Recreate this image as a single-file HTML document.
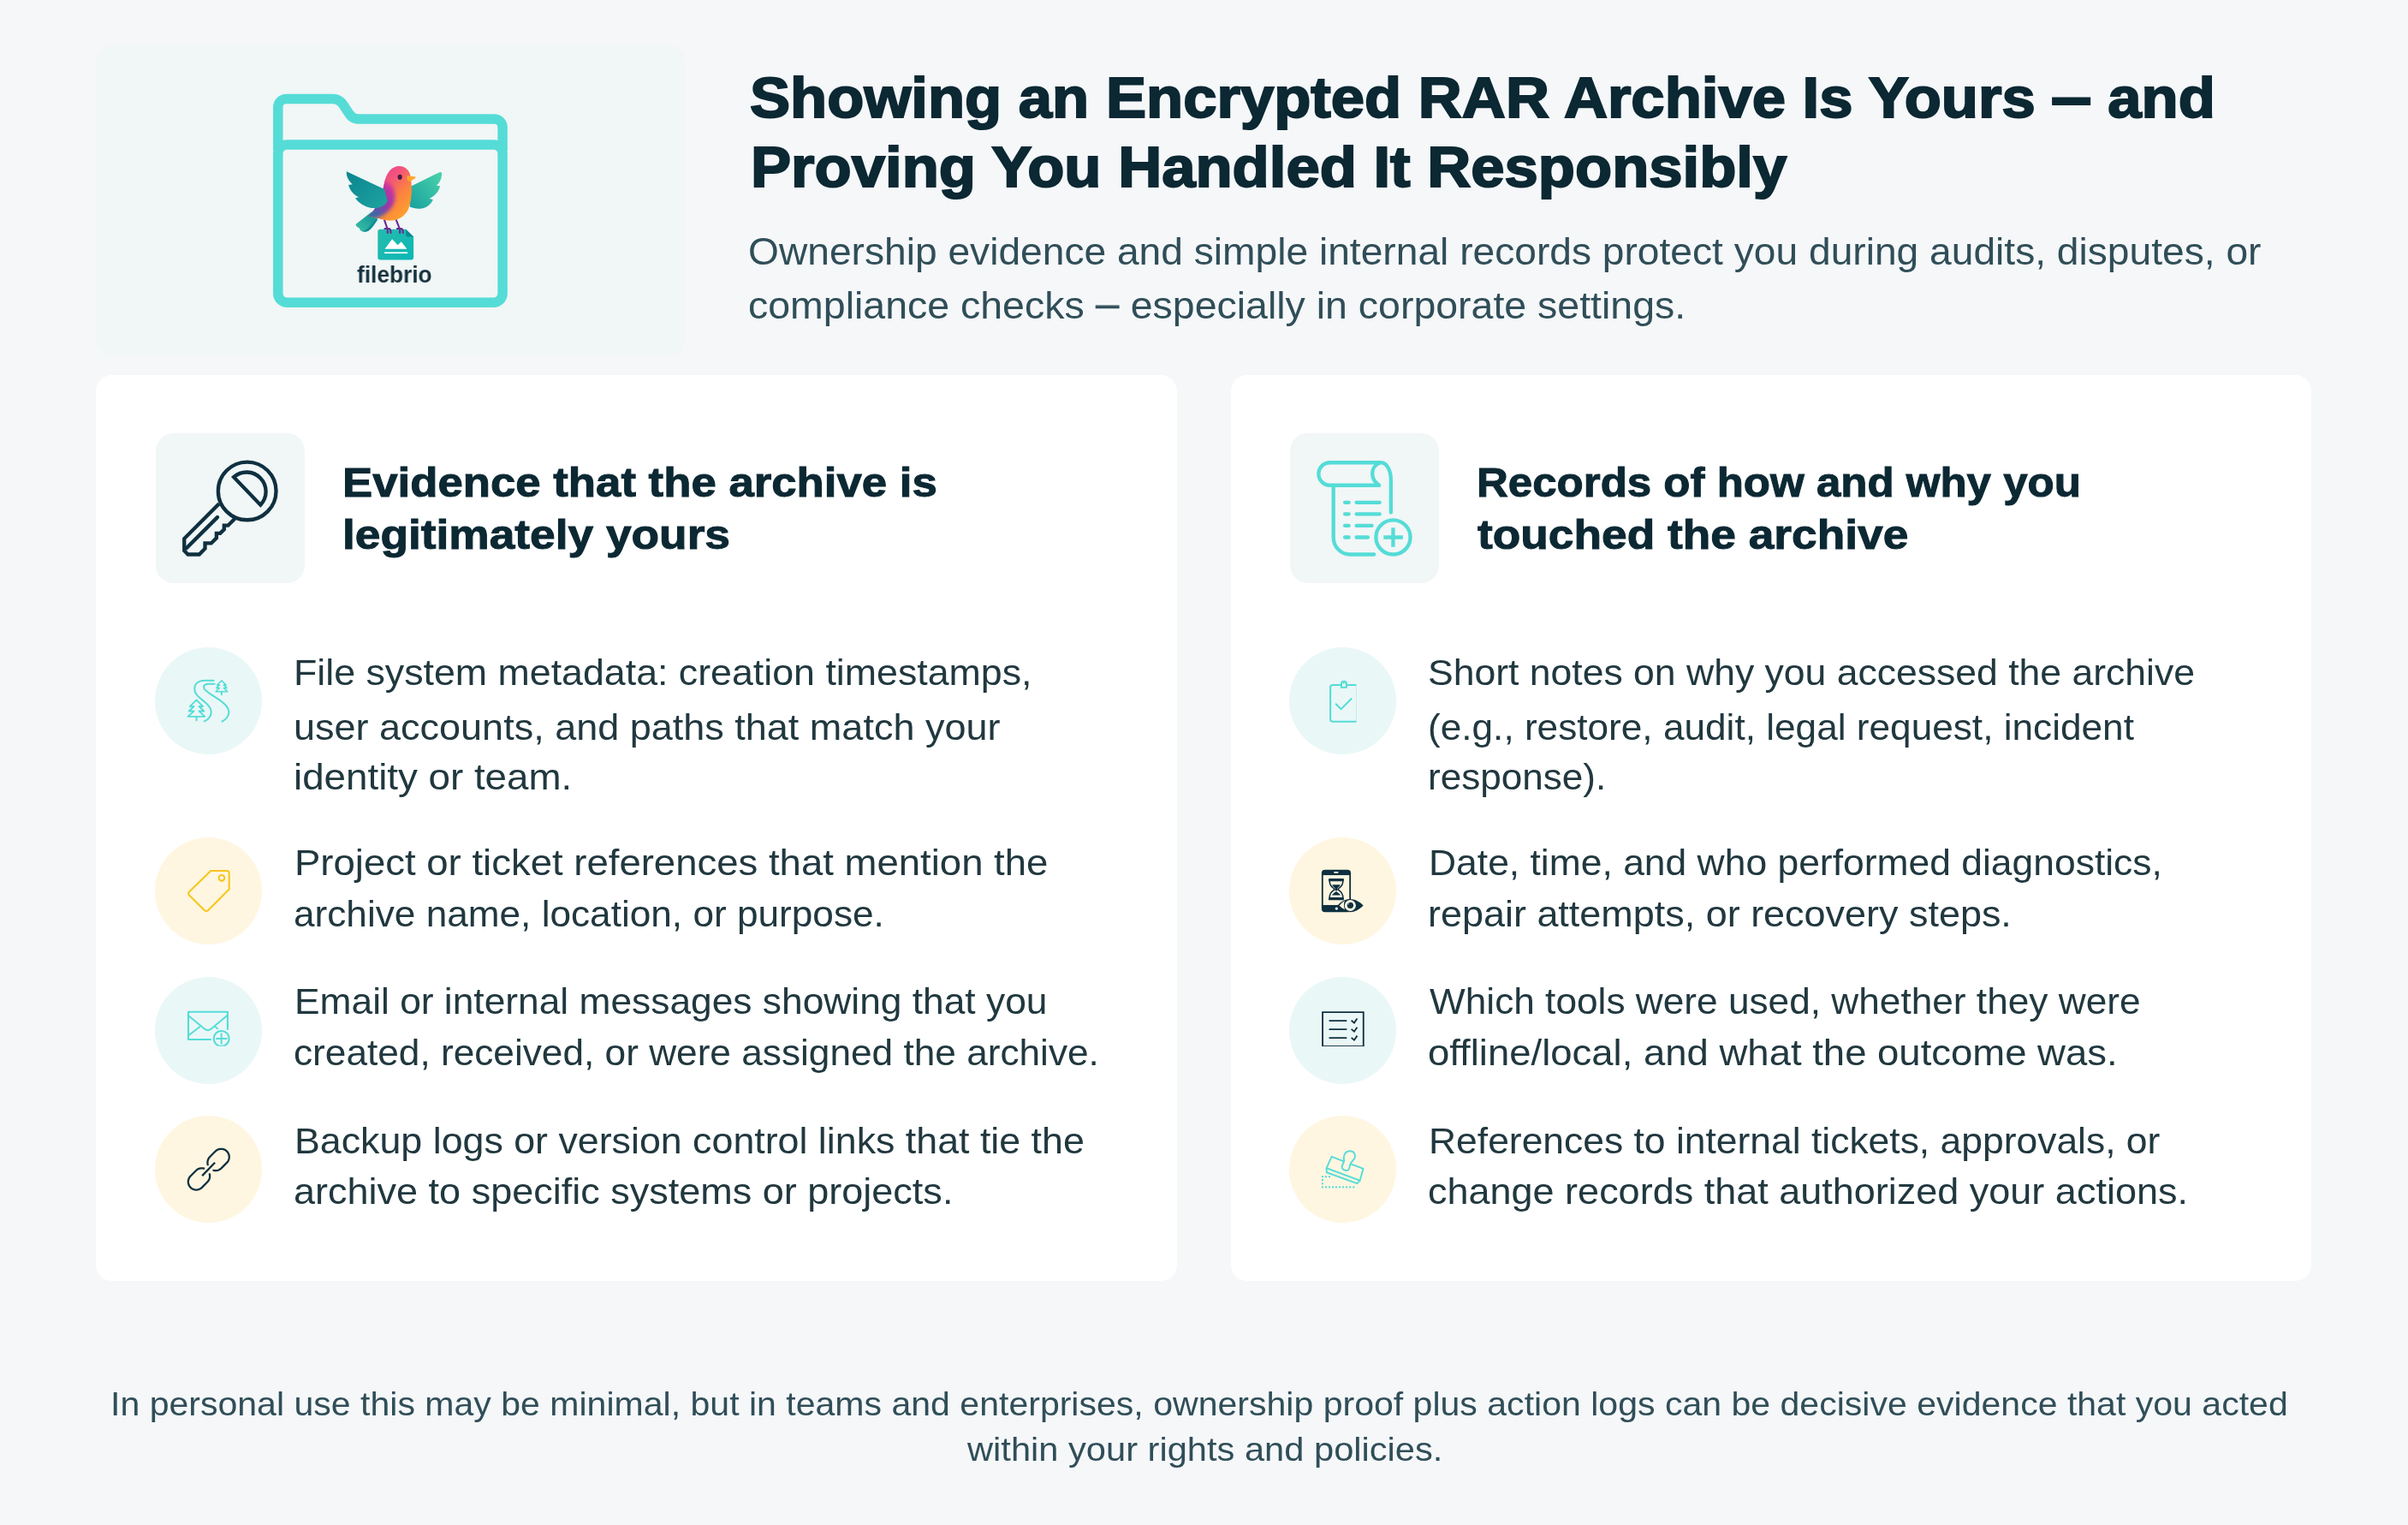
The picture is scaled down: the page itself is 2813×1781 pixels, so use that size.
<!DOCTYPE html>
<html lang="en"><head><meta charset="utf-8"><title>Showing an Encrypted RAR Archive Is Yours</title>
<style>
html,body{margin:0;padding:0;background:#f5f7f9}
body{width:2813px;height:1781px;position:relative;overflow:hidden;font-family:"Liberation Sans",sans-serif}
h1,h2,p,ul,li,header,main,section,footer{margin:0;padding:0;list-style:none;font-weight:inherit;font-size:inherit}
.t{position:absolute;display:block;white-space:nowrap;transform-origin:0 0;margin:0;will-change:transform}
.bx{position:absolute;display:block}
.c{position:absolute;display:block;width:125px;height:125px;border-radius:50%}
svg{position:absolute;overflow:visible}

.d1{display:inline-block;margin:0 -12.06px;transform-origin:50% 38.5px;transform:translateY(-1.3px) scale(.62,1.1)}
.d2{display:inline-block;margin:0 -8.55px;transform-origin:50% 25.7px;transform:translateY(-2.1px) scale(.6,1.3)}
</style></head>
<body>
<header>
<div class="bx" style="left:112.5px;top:52.6px;width:687.8px;height:363.4px;border-radius:19px;background:#f1f6f6"></div>
<span class="t" style="left:417.00px;top:307px;font:bold 27.5px/27.5px 'Liberation Sans',sans-serif;color:#17323f;transform:scaleX(0.9560)">filebrio</span>
<h1><span class="t" style="left:875.85px;top:80px;font:bold 67px/67px 'Liberation Sans',sans-serif;color:#0b2833;-webkit-text-stroke:2.0px #0b2833;transform:scaleX(1.0541)">Showing an Encrypted RAR Archive Is Yours <span class="d1">—</span> and</span> <span class="t" style="left:876.74px;top:161px;font:bold 67px/67px 'Liberation Sans',sans-serif;color:#0b2833;-webkit-text-stroke:2.0px #0b2833;transform:scaleX(1.0544)">Proving You Handled It Responsibly</span></h1>
<p><span class="t" style="left:874.48px;top:273px;font:normal 43.5px/43.5px 'Liberation Sans',sans-serif;color:#304e58;transform:scaleX(1.0609)">Ownership evidence and simple internal records protect you during audits, disputes, or</span> <span class="t" style="left:874.46px;top:336px;font:normal 43.5px/43.5px 'Liberation Sans',sans-serif;color:#304e58;transform:scaleX(1.0685)">compliance checks <span class="d2">—</span> especially in corporate settings.</span></p>
</header>
<main>
<section>
<div class="bx" style="left:112.3px;top:437.5px;width:1262.8px;height:1058.6px;border-radius:19px;background:#fff"></div>
<div class="bx" style="left:181.5px;top:506px;width:174.5px;height:175px;border-radius:21px;background:#f1f6f6"></div>
<h2><span class="t" style="left:400.20px;top:540px;font:bold 48px/48px 'Liberation Sans',sans-serif;color:#0b2833;-webkit-text-stroke:1.0px #0b2833;transform:scaleX(1.0989)">Evidence that the archive is</span> <span class="t" style="left:400.17px;top:601px;font:bold 48px/48px 'Liberation Sans',sans-serif;color:#0b2833;-webkit-text-stroke:1.0px #0b2833;transform:scaleX(1.1099)">legitimately yours</span></h2>
<ul>
<li><span class="c" style="left:181.3px;top:755.9px;background:#eaf7f7"></span><p><span class="t" style="left:343.44px;top:765px;font:normal 42.5px/42.5px 'Liberation Sans',sans-serif;color:#21383f;transform:scaleX(1.0523)">File system metadata: creation timestamps,</span> <span class="t" style="left:343.12px;top:829px;font:normal 42.5px/42.5px 'Liberation Sans',sans-serif;color:#21383f;transform:scaleX(1.0588)">user accounts, and paths that match your</span> <span class="t" style="left:343.07px;top:887px;font:normal 42.5px/42.5px 'Liberation Sans',sans-serif;color:#21383f;transform:scaleX(1.0757)">identity or team.</span></p></li>
<li><span class="c" style="left:181.3px;top:978.2px;background:#fff6e1"></span><p><span class="t" style="left:343.69px;top:987px;font:normal 42.5px/42.5px 'Liberation Sans',sans-serif;color:#21383f;transform:scaleX(1.0709)">Project or ticket references that mention the</span> <span class="t" style="left:343.42px;top:1047px;font:normal 42.5px/42.5px 'Liberation Sans',sans-serif;color:#21383f;transform:scaleX(1.0391)">archive name, location, or purpose.</span></p></li>
<li><span class="c" style="left:181.3px;top:1140.5px;background:#eaf7f7"></span><p><span class="t" style="left:343.77px;top:1149px;font:normal 42.5px/42.5px 'Liberation Sans',sans-serif;color:#21383f;transform:scaleX(1.0428)">Email or internal messages showing that you</span> <span class="t" style="left:343.42px;top:1209px;font:normal 42.5px/42.5px 'Liberation Sans',sans-serif;color:#21383f;transform:scaleX(1.0399)">created, received, or were assigned the archive.</span></p></li>
<li><span class="c" style="left:181.3px;top:1303.0px;background:#fff6e1"></span><p><span class="t" style="left:343.74px;top:1312px;font:normal 42.5px/42.5px 'Liberation Sans',sans-serif;color:#21383f;transform:scaleX(1.0529)">Backup logs or version control links that tie the</span> <span class="t" style="left:343.38px;top:1371px;font:normal 42.5px/42.5px 'Liberation Sans',sans-serif;color:#21383f;transform:scaleX(1.0590)">archive to specific systems or projects.</span></p></li>
</ul>
</section>
<section>
<div class="bx" style="left:1437.5px;top:437.5px;width:1262.7px;height:1058.6px;border-radius:19px;background:#fff"></div>
<div class="bx" style="left:1506.5px;top:506px;width:174.5px;height:175px;border-radius:21px;background:#f1f6f6"></div>
<h2><span class="t" style="left:1725.21px;top:540px;font:bold 48px/48px 'Liberation Sans',sans-serif;color:#0b2833;-webkit-text-stroke:1.0px #0b2833;transform:scaleX(1.0630)">Records of how and why you</span> <span class="t" style="left:1725.90px;top:601px;font:bold 48px/48px 'Liberation Sans',sans-serif;color:#0b2833;-webkit-text-stroke:1.0px #0b2833;transform:scaleX(1.1100)">touched the archive</span></h2>
<ul>
<li><span class="c" style="left:1506.3px;top:755.9px;background:#eaf7f7"></span><p><span class="t" style="left:1668.00px;top:765px;font:normal 42.5px/42.5px 'Liberation Sans',sans-serif;color:#21383f;transform:scaleX(1.0477)">Short notes on why you accessed the archive</span> <span class="t" style="left:1667.68px;top:829px;font:normal 42.5px/42.5px 'Liberation Sans',sans-serif;color:#21383f;transform:scaleX(1.0392)">(e.g., restore, audit, legal request, incident</span> <span class="t" style="left:1668.29px;top:887px;font:normal 42.5px/42.5px 'Liberation Sans',sans-serif;color:#21383f;transform:scaleX(1.0371)">response).</span></p></li>
<li><span class="c" style="left:1506.3px;top:978.2px;background:#fff6e1"></span><p><span class="t" style="left:1668.86px;top:987px;font:normal 42.5px/42.5px 'Liberation Sans',sans-serif;color:#21383f;transform:scaleX(1.0453)">Date, time, and who performed diagnostics,</span> <span class="t" style="left:1668.23px;top:1047px;font:normal 42.5px/42.5px 'Liberation Sans',sans-serif;color:#21383f;transform:scaleX(1.0574)">repair attempts, or recovery steps.</span></p></li>
<li><span class="c" style="left:1506.3px;top:1140.5px;background:#eaf7f7"></span><p><span class="t" style="left:1670.00px;top:1149px;font:normal 42.5px/42.5px 'Liberation Sans',sans-serif;color:#21383f;transform:scaleX(1.0402)">Which tools were used, whether they were</span> <span class="t" style="left:1668.36px;top:1209px;font:normal 42.5px/42.5px 'Liberation Sans',sans-serif;color:#21383f;transform:scaleX(1.0701)">offline/local, and what the outcome was.</span></p></li>
<li><span class="c" style="left:1506.3px;top:1303.0px;background:#fff6e1"></span><p><span class="t" style="left:1668.86px;top:1312px;font:normal 42.5px/42.5px 'Liberation Sans',sans-serif;color:#21383f;transform:scaleX(1.0453)">References to internal tickets, approvals, or</span> <span class="t" style="left:1668.38px;top:1371px;font:normal 42.5px/42.5px 'Liberation Sans',sans-serif;color:#21383f;transform:scaleX(1.0587)">change records that authorized your actions.</span></p></li>
</ul>
</section>
</main>
<footer><p><span class="t" style="left:129.02px;top:1620px;font:normal 39.3px/39.3px 'Liberation Sans',sans-serif;color:#304e58;transform:scaleX(1.0444)">In personal use this may be minimal, but in teams and enterprises, ownership proof plus action logs can be decisive evidence that you acted</span> <span class="t" style="left:1129.90px;top:1673px;font:normal 39.3px/39.3px 'Liberation Sans',sans-serif;color:#304e58;transform:scaleX(1.0595)">within your rights and policies.</span></p></footer>
<svg width="2813" height="1781" viewBox="0 0 2813 1781" style="left:0;top:0">
<g fill="none" stroke="#55dcd7" stroke-width="11.5" stroke-linejoin="round">
<path d="M324.8,176 V125.1 a9.7,9.7 0 0 1 9.7,-9.7 H389 C397,115.4 400.5,121.5 404,127 C407.5,132.5 410.5,139 418.5,139 H577.4 a9.7,9.7 0 0 1 9.7,9.7 V176"/>
<rect x="324.8" y="168.9" width="262.3" height="184.4" rx="10.5"/>
</g>
<g transform="translate(170,495) scale(0.13115)" fill="none" stroke="#0f3040" stroke-width="33" stroke-linejoin="miter">
<circle cx="905" cy="598" r="258"/>
<path d="M786,474 A172,172 0 0 1 1024,722 Z"/>
<path d="M655,712 L345,1022 V1130 L378,1163 H478 L530,1111 V1063 H585 L632,1016 V975 H665 L700,940 V905 H735 L795,845"/>
<path d="M640,832 L362,1110" stroke-linecap="round"/>
</g>
<g transform="translate(1495,495) scale(0.13115)" fill="none" stroke="#55dcd7" stroke-width="33" stroke-linecap="round" stroke-linejoin="round">
<path d="M893,547 H447 a101,101 0 0 1 0,-202 H900 C960,345 990,425 990,500 V700" stroke-linecap="butt"/><path d="M990,690 V790"/>
<path d="M885,560 V547 C845,520 825,485 825,445 C825,400 850,362 890,347" stroke-linecap="butt"/>
<path d="M478,560 V1012 a151,151 0 0 0 151,151 H840"/>
<path d="M580,700 H615 M683,700 H890 M580,803 H615 M683,803 H890 M580,907 H615 M683,907 H820 M580,1010 H615 M683,1010 H785"/>
<circle cx="1010" cy="1010" r="153"/>
<path d="M925,1010 H1097 M1010,925 V1097" stroke-linecap="butt"/>
</g>
<defs>
<linearGradient id="gb" x1="0.15" y1="0.05" x2="0.85" y2="0.9"><stop offset="0" stop-color="#e83a96"/><stop offset="0.35" stop-color="#f2557a"/><stop offset="0.62" stop-color="#fb8140"/><stop offset="1" stop-color="#ffa42c"/></linearGradient>
<linearGradient id="gp" x1="0.8" y1="0" x2="0.2" y2="1"><stop offset="0" stop-color="#d8359c"/><stop offset="0.5" stop-color="#9a36aa"/><stop offset="0.85" stop-color="#3a68a8"/><stop offset="1" stop-color="#3a68a8"/></linearGradient>
<linearGradient id="gl" x1="0" y1="0" x2="1" y2="1"><stop offset="0" stop-color="#0a858f"/><stop offset="1" stop-color="#1fa3a1"/></linearGradient>
<linearGradient id="gr" x1="0" y1="1" x2="1" y2="0"><stop offset="0" stop-color="#17a09f"/><stop offset="1" stop-color="#4cd3ab"/></linearGradient>
<linearGradient id="gt" x1="1" y1="0" x2="0" y2="1"><stop offset="0" stop-color="#0d8f96"/><stop offset="1" stop-color="#3cc0a6"/></linearGradient>
<linearGradient id="gf" x1="0" y1="0" x2="1" y2="1"><stop offset="0" stop-color="#26bcae"/><stop offset="1" stop-color="#0ab7b5"/></linearGradient>
</defs>
<g transform="translate(395,185) scale(0.08197)">
<path d="M565,1045 a35,35 0 0 1 35,-35 H965 L1075,1115 V1410 a35,35 0 0 1 -35,35 H600 a35,35 0 0 1 -35,-35 Z" fill="url(#gf)"/>
<path d="M965,1010 L1075,1115 H990 a25,25 0 0 1 -25,-25 Z" fill="#048b92"/>
<path d="M665,1290 L770,1150 L850,1235 L900,1185 L980,1290 Z" fill="#fff"/>
<rect x="660" y="1335" width="330" height="20" fill="#fff"/>
<path d="M480,760 L250,940 C255,975 285,990 300,990 C310,1030 350,1050 395,1045 C450,1035 500,960 565,865 L520,820 Z" fill="url(#gt)"/>
<path d="M520,880 C470,950 420,1010 350,1040 C400,1055 450,1030 490,975 C520,935 545,900 565,865 Z" fill="#0f8e94"/>
<g stroke="#6a2c91" stroke-width="26" fill="none" stroke-linecap="round" stroke-linejoin="round">
<path d="M660,880 L705,1010 V1062 M705,1000 L665,1000 M705,1005 C740,995 750,1010 750,1060"/>
<path d="M825,870 L880,1010 V1062 M880,1000 L840,1000 M880,1005 C915,995 925,1010 925,1060"/>
</g>
<path d="M1040,395 L1440,200 C1470,188 1482,205 1476,240 C1470,300 1445,350 1400,385 L1452,392 C1440,460 1390,530 1300,570 L1352,590 C1320,660 1250,722 1150,716 C1100,713 1055,700 1020,688 Z" fill="url(#gr)"/>
<clipPath id="cb"><path d="M652,380 C680,200 765,110 872,110 C962,110 1030,180 1036,285 C1052,400 1062,560 1002,720 C952,832 832,902 702,884 C622,872 560,852 430,822 C530,740 620,560 652,380 Z"/></clipPath>
<filter id="bl" x="-30%" y="-30%" width="160%" height="160%"><feGaussianBlur stdDeviation="28"/></filter>
<g clip-path="url(#cb)">
<rect x="400" y="100" width="700" height="800" fill="url(#gb)"/>
<path d="M600,300 L760,380 C810,450 830,560 790,650 C750,740 660,810 560,850 L380,860 L380,700 L560,560 Z" fill="url(#gp)" filter="url(#bl)"/>
</g>
<path d="M120,185 L660,440 L705,610 C650,705 520,735 400,685 C320,652 270,612 245,565 L295,552 C220,520 165,450 148,378 L205,370 C150,320 112,250 120,185 Z" fill="url(#gl)"/>
<path d="M985,248 L1100,262 C1110,265 1108,275 1100,280 L1035,322 C1010,335 985,320 980,300 Z" fill="#ffa62b"/>
<ellipse cx="880" cy="266" rx="32" ry="38" fill="#4a1a45"/>
</g>
<g transform="translate(210,785) scale(0.045902)" >
<g fill="none" stroke="#55dcd7" stroke-width="44" stroke-linecap="round" stroke-linejoin="round">
<path d="M865,213 H640 C470,213 375,300 375,430 C375,560 500,650 620,745 C720,825 800,900 800,1010 C800,1120 720,1210 628,1250"/>
<path d="M885,300 H740 C650,300 610,340 610,385 C610,450 720,520 850,600 C1000,695 1130,780 1200,880 C1245,945 1255,1000 1245,1050 C1230,1140 1160,1215 1080,1252"/>
<path d="M425,705 L592,872 H490 L618,992 H490 L640,1130 H207 L360,992 H232 L362,872 H257 Z" stroke-width="40"/>
<path d="M425,1130 V1228" stroke-width="44"/>
<path d="M1065,212 L1180,330 H1118 L1200,405 H1122 L1215,495 H915 L1008,405 H930 L1012,330 H950 Z" stroke-width="34"/>
<path d="M1065,497 V572" stroke-width="42"/>
</g></g>
<g transform="translate(210,1005) scale(0.045902)" >
<g fill="none" stroke="#f7c61d" stroke-width="45" stroke-linejoin="round">
<path d="M790,260 H1195 Q1257,260 1257,322 V730 L725,1262 Q675,1305 625,1262 L240,882 Q195,835 245,790 Z"/>
<circle cx="1067" cy="443" r="72"/>
</g></g>
<g transform="translate(210,1167) scale(0.045902)" >
<clipPath id="cm"><rect x="800" y="700" width="520" height="495"/></clipPath>
<g fill="none" stroke="#55dcd7" stroke-width="45">
<path d="M800,1022 H218 V322 H1218 V780"/>
<path d="M218,415 L640,760 Q715,815 790,760 L1218,405" stroke-width="42"/>
<path d="M218,925 L520,690 M895,690 L975,760" stroke-width="42"/>
<circle cx="1060" cy="1000" r="195" clip-path="url(#cm)"/>
<path d="M935,1003 H1190 M1060,875 V1130" stroke-linecap="round" stroke-width="42"/>
</g></g>
<g transform="translate(210,1330) scale(0.045902)" >
<g fill="none" stroke="#0f3040" stroke-width="50" stroke-linecap="butt" stroke-linejoin="round">
<path d="M838,795 L859,801 L880,806 L901,808 L923,808 L944,806 L965,801 L985,795 L1005,786 L1023,775 L1041,763 L1057,748 L1198,607 L1213,591 L1225,573 L1236,555 L1245,535 L1251,515 L1256,494 L1258,473 L1258,451 L1256,430 L1251,409 L1245,388 L1236,369 L1225,350 L1213,333 L1198,317 L1182,302 L1165,290 L1146,279 L1127,270 L1106,264 L1085,259 L1064,257 L1042,257 L1021,259 L1000,264 L980,270 L960,279 L942,290 L924,302 L908,317 L767,458 L752,474 L740,492 L729,510 L720,530 L714,550 L709,571 L707,592 L707,614 L709,635 L714,656 L720,677"/>
<path d="M634,760 L614,753 L593,749 L571,747 L550,747 L529,749 L508,753 L487,760 L468,769 L449,779 L432,792 L416,806 L274,948 L260,964 L247,981 L237,1000 L228,1019 L221,1040 L217,1061 L215,1082 L215,1103 L217,1125 L221,1146 L228,1166 L237,1186 L247,1204 L260,1222 L274,1238 L290,1252 L308,1265 L326,1275 L346,1284 L366,1291 L387,1295 L409,1297 L430,1297 L451,1295 L472,1291 L493,1284 L512,1275 L531,1265 L548,1252 L564,1238 L706,1096 L720,1080 L733,1063 L743,1044 L752,1025 L759,1004 L763,983 L765,962 L765,941 L763,919 L759,898 L752,878"/>
<path d="M570,940 L895,605"/>
</g></g>
<g transform="translate(1534,785) scale(0.045902)" >
<g fill="none" stroke="#55dcd7" stroke-width="45">
<path d="M1095,327 H495 a57,57 0 0 0 -57,57 V1200 a57,57 0 0 0 57,57 H1095"/>
<path d="M1098,305 V1280" stroke-width="18" opacity="0.3"/>
<path d="M718,388 V300 a65,65 0 0 1 130,0 V388 Z" fill="#eaf7f7"/>
<circle cx="780" cy="282" r="22" fill="#55dcd7" stroke="none"/>
<path d="M570,800 L710,940 L985,665" stroke-width="44"/>
</g></g>
<g transform="translate(1534,1006) scale(0.045902)" >
<rect x="215" y="210" width="745" height="1080" rx="85" fill="#0f3040"/>
<rect x="255" y="350" width="665" height="760" fill="#fff6e1"/>
<rect x="525" y="262" width="120" height="36" rx="18" fill="#fff6e1"/>
<rect x="393" y="435" width="390" height="72" rx="14" fill="#0f3040"/>
<rect x="393" y="915" width="390" height="72" rx="14" fill="#0f3040"/>
<path d="M418,500 C418,610 470,645 515,680 C538,697 545,704 545,710 C545,716 538,723 515,740 C470,775 418,810 418,920 M758,500 C758,610 706,645 661,680 C638,697 631,704 631,710 C631,716 638,723 661,740 C706,775 758,810 758,920" fill="none" stroke="#0f3040" stroke-width="34"/>
<path d="M484,592 H692 C672,640 640,655 618,685 V745 H558 V685 C536,655 504,640 484,592 Z" fill="#0f3040"/>
<path d="M480,862 H696 C672,805 625,790 588,760 C551,790 504,805 480,862 Z" fill="#0f3040"/>
<path d="M620,1122 C720,1010 830,960 940,960 C1060,960 1170,1020 1278,1122 C1170,1230 1060,1290 940,1290 C830,1290 720,1240 620,1122 Z" fill="#0f3040"/>
<circle cx="595" cy="1200" r="36" fill="#fff6e1"/>
<path d="M668,1120 Q725,1050 800,1003 Q765,1120 808,1228 Q725,1195 668,1120 Z" fill="#fff6e1"/>
<circle cx="945" cy="1122" r="142" fill="#fff6e1"/>
<circle cx="945" cy="1118" r="80" fill="#0f3040"/>
<path d="M880,1085 A45,45 0 0 1 940,1050 A38,38 0 0 0 905,1110 A30,30 0 0 1 880,1085 Z" fill="#fff6e1"/>
</g>
<g transform="translate(1534,1168) scale(0.045902)" >
<g fill="none" stroke="#0f3040" stroke-width="40">
<path d="M241,1175 V308 H1280 V1175"/>
<path d="M221,1165 H1300" stroke-width="20"/>
<path d="M420,525 H840 M420,745 H840 M420,962 H840" stroke-linecap="round"/>
<path d="M972,518 L1045,580 L1120,470 M972,738 L1045,800 L1120,690 M972,955 L1045,1017 L1120,907"/>
</g></g>
<g transform="translate(1534,1330) scale(0.045902)" >
<g fill="none" stroke="#55dcd7" stroke-width="42" stroke-linejoin="miter">
<path d="M470,455 L1275,760 L1190,1060 L340,745 Z"/>
<path d="M340,745 L345,855 L1120,1135 L1190,1060"/>
<path d="M790,560 C760,440 800,320 930,310 C1040,305 1085,400 1062,480 C1040,550 960,580 945,640 L920,750 C900,820 830,815 770,780 C720,750 730,700 750,660 Z" fill="#fff6e1" stroke-linejoin="round"/>
</g>
<g fill="#55dcd7"><rect x="216" y="941" width="45" height="45"/><rect x="303" y="941" width="45" height="45"/><rect x="391" y="941" width="45" height="45"/><rect x="216" y="1028" width="45" height="45"/><rect x="216" y="1118" width="45" height="45"/><rect x="216" y="1206" width="45" height="45"/><rect x="303" y="1206" width="45" height="45"/><rect x="391" y="1206" width="45" height="45"/><rect x="478" y="1206" width="45" height="45"/><rect x="566" y="1206" width="45" height="45"/><rect x="654" y="1206" width="45" height="45"/><rect x="742" y="1206" width="45" height="45"/><rect x="830" y="1206" width="45" height="45"/><rect x="918" y="1206" width="45" height="45"/><rect x="1008" y="1206" width="45" height="45"/></g></g>
</svg>
</body></html>
